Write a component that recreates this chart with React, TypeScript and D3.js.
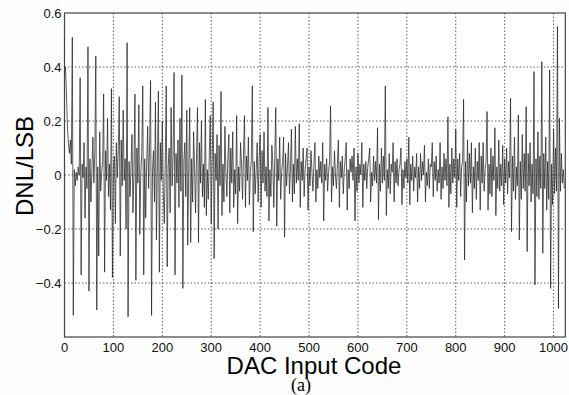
import React from "react";
import * as d3 from "d3";

// DNL values (LSB), one value per 2 input codes
const DNL_0_255 = [
  0.37, 0.40, 0.30, 0.18, 0.12, 0.08, 0.13, 0.04,
  0.51, -0.52, 0.02, -0.04, 0.01, -0.02, 0.03, 0.00,
  0.36, -0.37, 0.04, -0.01, 0.12, -0.16, 0.03, -0.05,
  0.475, -0.43, 0.06, -0.10, 0.02, 0.14, -0.03, 0.08,
  0.44, -0.50, 0.03, -0.30, 0.16, -0.06, 0.01, 0.05,
  0.30, -0.36, 0.09, -0.02, 0.21, -0.08, 0.04, -0.13,
  0.32, -0.38, 0.02, 0.07, -0.18, 0.12, -0.01, 0.10,
  0.29, -0.30, 0.13, -0.04, 0.24, -0.02, 0.06, -0.20,
  0.49, -0.525, 0.05, -0.08, 0.03, 0.15, -0.14, 0.02,
  0.30, -0.39, 0.10, -0.03, 0.26, -0.22, 0.01, 0.08,
  0.33, -0.37, 0.06, -0.16, 0.04, 0.18, -0.05, 0.11,
  0.35, -0.52, 0.02, 0.09, -0.10, 0.27, -0.24, 0.05,
  0.31, -0.36, 0.12, -0.02, 0.20, -0.06, -0.18, 0.04,
  0.33, -0.34, 0.03, 0.10, -0.14, 0.25, -0.04, 0.07,
  0.38, -0.37, 0.08, -0.03, 0.13, -0.12, 0.21, -0.06,
  0.37, -0.42, 0.05, 0.12, -0.08, 0.24, -0.26, 0.02,
];
const DNL_256_511 = [
  0.25, -0.25, 0.06, -0.10, 0.16, 0.02, -0.14, 0.08,
  0.25, -0.25, 0.12, -0.03, 0.20, -0.08, 0.04, -0.12,
  0.28, -0.15, 0.02, -0.09, 0.07, 0.22, -0.18, 0.05,
  0.27, -0.31, 0.08, -0.02, 0.15, -0.20, 0.11, -0.04,
  0.31, -0.15, 0.04, -0.10, 0.18, 0.01, -0.08, 0.06,
  0.15, -0.14, 0.10, -0.03, 0.16, -0.12, 0.02, -0.07,
  0.22, -0.18, 0.03, -0.06, 0.12, 0.04, -0.09, 0.08,
  0.22, -0.12, 0.07, -0.02, 0.14, -0.11, 0.01, 0.05,
  0.33, -0.21, 0.05, -0.07, 0.02, 0.12, -0.10, 0.06,
  0.15, -0.12, 0.09, -0.03, 0.16, -0.06, 0.03, -0.08,
  0.25, -0.17, 0.02, -0.08, 0.11, 0.04, -0.12, 0.07,
  0.25, -0.19, 0.06, -0.02, 0.14, -0.09, 0.01, 0.05,
  0.14, -0.23, 0.08, -0.04, 0.03, 0.12, -0.07, 0.02,
  0.17, -0.10, 0.04, -0.07, 0.18, -0.03, 0.06, -0.02,
  0.19, -0.12, 0.05, -0.02, 0.10, -0.08, 0.02, 0.06,
  0.10, -0.13, 0.03, -0.04, 0.09, 0.01, -0.06, 0.04,
];
const DNL_512_767 = [
  0.12, -0.10, 0.02, -0.05, 0.07, -0.01, 0.05, -0.03,
  0.12, -0.17, 0.04, -0.02, 0.06, -0.06, 0.01, 0.05,
  0.255, -0.10, 0.03, -0.04, 0.09, 0.00, -0.05, 0.04,
  0.13, -0.12, 0.05, -0.01, 0.07, -0.07, 0.02, 0.06,
  0.12, -0.13, 0.02, -0.05, 0.06, 0.01, 0.07, -0.02,
  0.10, -0.17, 0.03, -0.06, 0.08, -0.03, 0.04, 0.00,
  0.12, -0.12, 0.04, -0.02, 0.05, -0.05, 0.03, 0.06,
  0.10, -0.10, 0.01, -0.04, 0.07, -0.02, 0.05, -0.03,
  0.175, -0.165, 0.04, -0.06, 0.10, -0.03, 0.07, -0.02,
  0.33, -0.15, 0.02, -0.05, 0.08, -0.07, 0.04, 0.01,
  0.12, -0.10, 0.05, -0.03, 0.06, -0.04, 0.02, 0.04,
  0.10, -0.11, 0.02, -0.05, 0.05, -0.01, 0.06, -0.03,
  0.14, -0.11, 0.04, -0.02, 0.07, -0.06, 0.03, -0.01,
  0.08, -0.10, 0.03, -0.05, 0.08, -0.02, 0.05, 0.00,
  0.11, -0.10, 0.01, -0.04, 0.06, -0.05, 0.04, 0.03,
  0.12, -0.08, 0.05, -0.02, 0.07, -0.06, 0.02, -0.03,
];
const DNL_768_1023 = [
  0.12, -0.09, 0.03, -0.05, 0.08, -0.02, 0.06, -0.04,
  0.215, -0.12, 0.04, -0.07, 0.10, -0.03, 0.06, -0.01,
  0.17, -0.12, 0.06, -0.02, 0.08, -0.08, 0.03, 0.05,
  0.28, -0.315, 0.05, -0.10, 0.13, -0.04, 0.08, -0.03,
  0.12, -0.14, 0.03, -0.05, 0.10, -0.09, 0.05, -0.02,
  0.12, -0.13, 0.07, -0.03, 0.12, -0.06, 0.02, 0.05,
  0.235, -0.13, 0.04, -0.07, 0.10, -0.08, 0.07, -0.02,
  0.175, -0.15, 0.03, -0.05, 0.13, -0.06, 0.04, -0.04,
  0.11, -0.11, 0.06, -0.03, 0.10, -0.07, 0.05, -0.01,
  0.284, -0.21, 0.07, -0.06, 0.14, -0.09, 0.03, -0.04,
  0.222, -0.24, 0.05, -0.09, 0.15, -0.05, 0.08, -0.06,
  0.253, -0.284, 0.08, -0.04, 0.12, -0.10, 0.04, -0.07,
  0.383, -0.407, 0.06, -0.08, 0.16, -0.09, 0.07, -0.05,
  0.42, -0.29, 0.08, -0.05, 0.14, -0.13, 0.05, -0.09,
  0.389, -0.42, 0.04, -0.11, 0.17, -0.07, 0.10, -0.06,
  0.55, -0.494, 0.21, -0.06, 0.08, -0.03, 0.02, -0.05,
];
const CODE_STEP = 2;
const X_TICKS = [0, 100, 200, 300, 400, 500, 600, 700, 800, 900, 1000];
const Y_TICKS = [0.6, 0.4, 0.2, 0, -0.2, -0.4];
const Y_GRID = [0.4, 0.2, 0, -0.2, -0.4];

const W = 569;
const H = 395;

export default function App() {
  const values = [...DNL_0_255, ...DNL_256_511, ...DNL_512_767, ...DNL_768_1023];
  const x = d3.scaleLinear().domain([0, 1024]).range([64.5, 565.3]);
  const y = d3.scaleLinear().domain([-0.6, 0.6]).range([337, 13]);
  const line = d3
    .line<number>()
    .x((_, i) => x(i * CODE_STEP))
    .y((d) => y(d));
  const [x0, x1] = x.range();
  const [yb, yt] = y.range();
  const font = "Arial, 'Liberation Sans', Helvetica, sans-serif";
  return (
    <svg
      width={W}
      height={H}
      style={{ position: "absolute", left: 0, top: 0, background: "#fdfdfd" }}
    >
      <rect x={x0} y={yt} width={x1 - x0} height={yb - yt} fill="#ffffff" />
      {X_TICKS.filter((t) => t > 0).map((t) => (
        <line
          key={"gx" + t}
          x1={x(t)}
          x2={x(t)}
          y1={yt}
          y2={yb}
          stroke="#333"
          strokeWidth={0.8}
          strokeDasharray="1.5,2"
        />
      ))}
      {Y_GRID.map((t) => (
        <line
          key={"gy" + t}
          x1={x0}
          x2={x1}
          y1={y(t)}
          y2={y(t)}
          stroke="#333"
          strokeWidth={0.8}
          strokeDasharray="1.5,2"
        />
      ))}
      <path
        d={line(values) || ""}
        fill="none"
        stroke="#262626"
        strokeWidth={0.75}
        strokeLinejoin="miter"
      />
      <rect
        x={x0}
        y={yt}
        width={x1 - x0}
        height={yb - yt}
        fill="none"
        stroke="#444"
        strokeWidth={1.2}
      />
      {X_TICKS.map((t) => (
        <text
          key={"tx" + t}
          x={x(t)}
          y={351.5}
          textAnchor="middle"
          fontFamily={font}
          fontSize={13}
          fill="#111"
        >
          {t}
        </text>
      ))}
      {Y_TICKS.map((t) => (
        <text
          key={"ty" + t}
          x={61.5}
          y={y(t) + 4.5}
          textAnchor="end"
          fontFamily={font}
          fontSize={13}
          fill="#111"
        >
          {t === 0 ? "0" : d3.format(".1f")(t)}
        </text>
      ))}
      <text
        transform={`translate(33,166) rotate(-90)`}
        textAnchor="middle"
        fontFamily={font}
        fontSize={24}
        fill="#000"
      >
        DNL/LSB
      </text>
      <text
        x={314}
        y={374}
        textAnchor="middle"
        fontFamily={font}
        fontSize={24}
        fill="#000"
      >
        DAC Input Code
      </text>
      <text
        x={301}
        y={390.5}
        textAnchor="middle"
        fontFamily="'Times New Roman', 'Liberation Serif', serif"
        fontSize={18}
        fill="#000"
      >
        (a)
      </text>
    </svg>
  );
}
